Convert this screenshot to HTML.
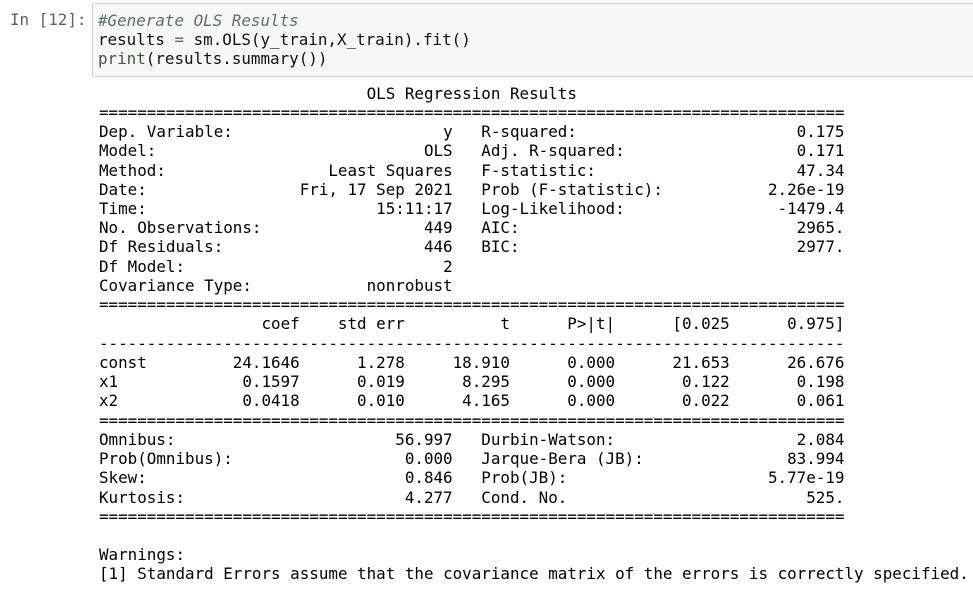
<!DOCTYPE html>
<html><head><meta charset="utf-8">
<style>
html,body{margin:0;padding:0;background:#fff;width:973px;height:591px;overflow:hidden}
body{position:relative;font-family:"DejaVu Sans Mono","Liberation Mono",monospace;font-size:15.88px;color:#000}
.prompt{position:absolute;left:10px;top:10px;color:#616161;line-height:19.24px;white-space:pre}
.cell{position:absolute;left:92px;top:3px;width:900px;height:72px;background:#f7f7f7;border:1px solid #d0d0d0;border-radius:2px}
.code{position:absolute;left:5px;top:7px;line-height:19.2px;white-space:pre;color:#111}
.cm{color:#5a7070;font-style:italic}.kw{color:#3d5a3d}.op{color:#666}
.out{position:absolute;left:99px;top:83.6px;line-height:19.24px;white-space:pre}
.r{display:flex;height:19.24px}
.a{display:flex;justify-content:space-between;width:37ch}
.g{width:3ch}
.b{display:flex;justify-content:space-between;width:38ch}
.c{display:inline-block;text-align:right}
</style></head><body>
<div class="prompt">In [12]:</div>
<div class="cell"><div class="code"><span class="cm">#Generate OLS Results</span>
results <span class="op">=</span> sm.OLS(y_train,X_train).fit()
<span class="kw">print</span>(results.summary())</div></div>
<div class="out"><div class="r">                            OLS Regression Results</div><div class="r">==============================================================================</div><div class="r"><span class="a"><span>Dep. Variable:</span><span>y</span></span><span class="g"></span><span class="b"><span>R-squared:</span><span>0.175</span></span></div><div class="r"><span class="a"><span>Model:</span><span>OLS</span></span><span class="g"></span><span class="b"><span>Adj. R-squared:</span><span>0.171</span></span></div><div class="r"><span class="a"><span>Method:</span><span>Least Squares</span></span><span class="g"></span><span class="b"><span>F-statistic:</span><span>47.34</span></span></div><div class="r"><span class="a"><span>Date:</span><span>Fri, 17 Sep 2021</span></span><span class="g"></span><span class="b"><span>Prob (F-statistic):</span><span>2.26e-19</span></span></div><div class="r"><span class="a"><span>Time:</span><span>15:11:17</span></span><span class="g"></span><span class="b"><span>Log-Likelihood:</span><span>-1479.4</span></span></div><div class="r"><span class="a"><span>No. Observations:</span><span>449</span></span><span class="g"></span><span class="b"><span>AIC:</span><span>2965.</span></span></div><div class="r"><span class="a"><span>Df Residuals:</span><span>446</span></span><span class="g"></span><span class="b"><span>BIC:</span><span>2977.</span></span></div><div class="r"><span class="a"><span>Df Model:</span><span>2</span></span><span class="g"></span><span class="b"><span></span><span></span></span></div><div class="r"><span class="a"><span>Covariance Type:</span><span>nonrobust</span></span></div><div class="r">==============================================================================</div><div class="r"><span class="c" style="width:10ch"></span><span class="c" style="width:11ch">coef</span><span class="c" style="width:11ch">std err</span><span class="c" style="width:11ch">t</span><span class="c" style="width:11ch">P&gt;|t|</span><span class="c" style="width:12ch">[0.025</span><span class="c" style="width:12ch">0.975]</span></div><div class="r">------------------------------------------------------------------------------</div><div class="r"><span class="c" style="width:10ch;text-align:left">const</span><span class="c" style="width:11ch">24.1646</span><span class="c" style="width:11ch">1.278</span><span class="c" style="width:11ch">18.910</span><span class="c" style="width:11ch">0.000</span><span class="c" style="width:12ch">21.653</span><span class="c" style="width:12ch">26.676</span></div><div class="r"><span class="c" style="width:10ch;text-align:left">x1</span><span class="c" style="width:11ch">0.1597</span><span class="c" style="width:11ch">0.019</span><span class="c" style="width:11ch">8.295</span><span class="c" style="width:11ch">0.000</span><span class="c" style="width:12ch">0.122</span><span class="c" style="width:12ch">0.198</span></div><div class="r"><span class="c" style="width:10ch;text-align:left">x2</span><span class="c" style="width:11ch">0.0418</span><span class="c" style="width:11ch">0.010</span><span class="c" style="width:11ch">4.165</span><span class="c" style="width:11ch">0.000</span><span class="c" style="width:12ch">0.022</span><span class="c" style="width:12ch">0.061</span></div><div class="r">==============================================================================</div><div class="r"><span class="a"><span>Omnibus:</span><span>56.997</span></span><span class="g"></span><span class="b"><span>Durbin-Watson:</span><span>2.084</span></span></div><div class="r"><span class="a"><span>Prob(Omnibus):</span><span>0.000</span></span><span class="g"></span><span class="b"><span>Jarque-Bera (JB):</span><span>83.994</span></span></div><div class="r"><span class="a"><span>Skew:</span><span>0.846</span></span><span class="g"></span><span class="b"><span>Prob(JB):</span><span>5.77e-19</span></span></div><div class="r"><span class="a"><span>Kurtosis:</span><span>4.277</span></span><span class="g"></span><span class="b"><span>Cond. No.</span><span>525.</span></span></div><div class="r">==============================================================================</div><div class="r"> </div><div class="r">Warnings:</div><div class="r">[1] Standard Errors assume that the covariance matrix of the errors is correctly specified.</div></div>
</body></html>
